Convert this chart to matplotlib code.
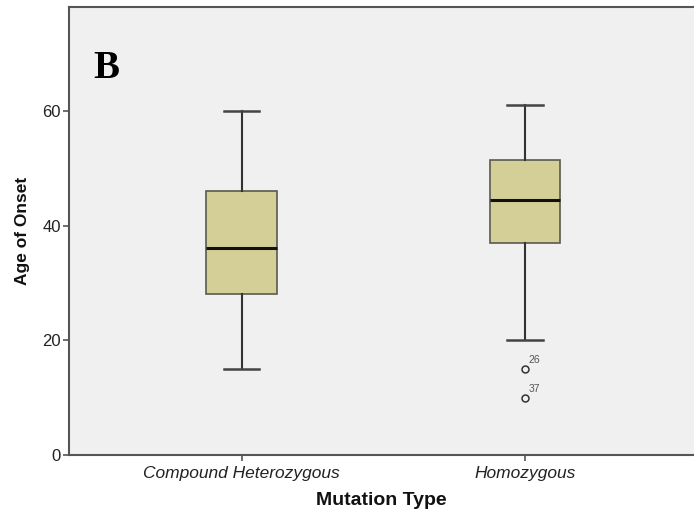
import matplotlib
matplotlib.use("Agg")
import matplotlib.pyplot as plt

categories = ["Compound Heterozygous", "Homozygous"]
whislo = [15, 20]
q1 = [28, 37]
med = [36, 44.5]
q3 = [46, 51.5]
whishi = [60, 61]
outlier_vals = [[], [15, 10]]
outlier_ids = [[], ["26", "37"]]
yticks = [0, 20, 40, 60]

plt.rcParams['font.family'] = ['Liberation Sans', 'DejaVu Sans']

fig = plt.figure(figsize=(6.94, 5.18), dpi=100)
ax = fig.add_axes([69 / 694, 63 / 518, 1 - 69 / 694, 448 / 518])
ax.set_facecolor('#f0f0f0')

stats = []
for i in range(len(categories)):
    stats.append(dict(label=categories[i], whislo=whislo[i], q1=q1[i], med=med[i],
                      q3=q3[i], whishi=whishi[i], fliers=outlier_vals[i]))

bp = ax.bxp(stats, positions=[1, 2], widths=0.25, patch_artist=True,
            showfliers=True,
            boxprops=dict(facecolor='#d3cf97', edgecolor='#5a5a50', linewidth=1.2),
            medianprops=dict(color='#111111', linewidth=2.2),
            whiskerprops=dict(color='#333333', linewidth=1.5),
            capprops=dict(color='#444444', linewidth=1.8),
            capwidths=0.125,
            flierprops=dict(marker='o', markersize=5, markerfacecolor='none',
                            markeredgecolor='#333333', markeredgewidth=1.1))

for i in range(len(categories)):
    for v, lab in zip(outlier_vals[i], outlier_ids[i]):
        ax.annotate(lab, (i + 1, v), xytext=(2.5, 4), textcoords='offset points',
                    fontsize=7.5, fontstyle='normal', color='#555555')

ax.set_xlim(0.3915, 2.596)
ax.set_ylim(0, 78.1)
ax.set_yticks(yticks)
ax.set_xticks([1, 2])
ax.set_xticklabels(categories, fontstyle='italic', fontsize=12.5, color='#222222')
ax.tick_params(axis='y', labelsize=12, labelcolor='#222222', length=4,
               color='#555555', width=1.2, direction='out', pad=2)
ax.tick_params(axis='x', length=4, color='#555555', width=1.2, direction='out', pad=4)

for s in ['left', 'bottom', 'top']:
    ax.spines[s].set_color('#555555')
    ax.spines[s].set_linewidth(1.5)
ax.spines['right'].set_visible(False)

ax.set_ylabel("Age of Onset", fontsize=12.5, fontweight='bold', color='#111111', labelpad=9)
ax.set_xlabel("Mutation Type", fontsize=14, fontweight='bold', color='#111111', labelpad=8)

ax.text(0.039, 0.842, "B", transform=ax.transAxes, fontsize=28, fontweight='bold',
        family='Liberation Serif', color='black')

fig.savefig("out.png", dpi=100)
